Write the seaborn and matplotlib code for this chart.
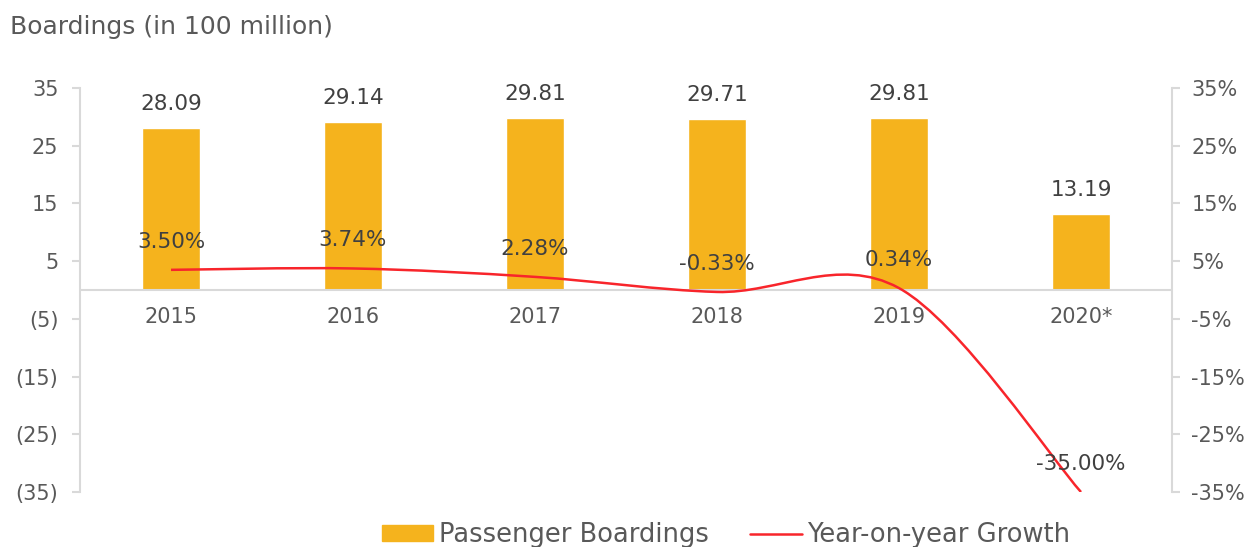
import numpy as np
import pandas as pd
import seaborn as sns
import matplotlib.pyplot as plt
from matplotlib.path import Path
from matplotlib.patches import PathPatch, Patch
from matplotlib.lines import Line2D
from matplotlib.ticker import FuncFormatter

years = ["2015", "2016", "2017", "2018", "2019", "2020*"]
boardings = [28.09, 29.14, 29.81, 29.71, 29.81, 13.19]
growth = [3.50, 3.74, 2.28, -0.33, 0.34, -35.00]
growth_labels = ["3.50%", "3.74%", "2.28%", "-0.33%", "0.34%", "-35.00%"]

bar_color = "#F5B31D"
line_color = "#F8252B"
text_color = "#595959"
grid_color = "#D9D9D9"

sns.set_theme(style="white")
plt.rcParams["font.family"] = ["DejaVu Sans"]

df = pd.DataFrame({"year": years, "boardings": boardings, "growth": growth})

fig = plt.figure(figsize=(12.5, 5.47), dpi=100)
ax = fig.add_axes([0.064, 0.1005, 0.8736, 0.7385])

sns.barplot(data=df, x="year", y="boardings", color=bar_color, width=0.32,
            saturation=1, ax=ax)
ax.set_xlim(-0.5, 5.5)
ax.set_ylim(-35, 35)
ax.set_yticks([35, 25, 15, 5, -5, -15, -25, -35])
ax.yaxis.set_major_formatter(FuncFormatter(
    lambda v, p: f"({abs(int(v))})" if v < 0 else f"{int(v)}"))
ax.set_xlabel("")
ax.set_ylabel("")

for i, v in enumerate(boardings):
    ax.annotate(f"{v:.2f}", (i, v), xytext=(0, 10), textcoords="offset points",
                ha="center", va="bottom", fontsize=15.5, color="#404040")

# category axis at zero, labels just below it
ax.axhline(0, color=grid_color, lw=1.5, zorder=1)
ax.set_xticks(range(len(years)))
ax.set_xticklabels([])
for i, y in enumerate(years):
    ax.text(i, -3.0, y, ha="center", va="top", fontsize=15, color=text_color)
ax.tick_params(axis="x", length=0)

for s in ["top", "right", "bottom"]:
    ax.spines[s].set_visible(False)
ax.spines["left"].set_color(grid_color)
ax.spines["left"].set_linewidth(1.5)
ax.tick_params(axis="y", left=True, length=5.5, width=1.5, color=grid_color,
               labelsize=15, labelcolor=text_color, pad=10)

ax2 = ax.twinx()
ax2.set_ylim(-35, 35)
ax2.set_yticks([35, 25, 15, 5, -5, -15, -25, -35])
ax2.yaxis.set_major_formatter(FuncFormatter(lambda v, p: f"{int(v)}%"))
for s in ["top", "left", "bottom"]:
    ax2.spines[s].set_visible(False)
ax2.spines["right"].set_color(grid_color)
ax2.spines["right"].set_linewidth(1.5)
ax2.tick_params(axis="y", right=True, length=5.5, width=1.5, color=grid_color,
                labelsize=15, labelcolor=text_color, pad=8.5)

# smoothed line drawn as cubic bezier segments through the data points
xs = list(range(len(growth)))
pts = list(zip(xs, growth))
verts = [pts[0]]
codes = [Path.MOVETO]
for i in range(len(pts) - 1):
    p0 = pts[i - 1] if i > 0 else pts[i]
    p1 = pts[i]
    p2 = pts[i + 1]
    p3 = pts[i + 2] if i + 2 < len(pts) else pts[i + 1]
    c1 = (p1[0] + (p2[0] - p0[0]) / 6, p1[1] + (p2[1] - p0[1]) / 6)
    c2 = (p2[0] - (p3[0] - p1[0]) / 6, p2[1] - (p3[1] - p1[1]) / 6)
    verts += [c1, c2, p2]
    codes += [Path.CURVE4] * 3
ax2.add_patch(PathPatch(Path(verts, codes), fill=False, edgecolor=line_color,
                        lw=1.8, zorder=3))

for i, (v, lab) in enumerate(zip(growth, growth_labels)):
    ax2.annotate(lab, (i, v), xytext=(0, 13), textcoords="offset points",
                 ha="center", va="bottom", fontsize=15.5, color="#404040")

fig.text(0.008, 0.951, "Boardings (in 100 million)", fontsize=18,
         color=text_color, va="center", ha="left")

handles = [Patch(color=bar_color, label="Passenger Boardings"),
           Line2D([], [], color=line_color, lw=1.8, label="Year-on-year Growth")]
fig.legend(handles=handles, loc="center", bbox_to_anchor=(0.581, 0.022),
           ncol=2, frameon=False, fontsize=18.5, labelcolor=text_color,
           handlelength=2.0, handleheight=0.55, columnspacing=1.6,
           handletextpad=0.23)

fig.savefig("out.png", dpi=100)
